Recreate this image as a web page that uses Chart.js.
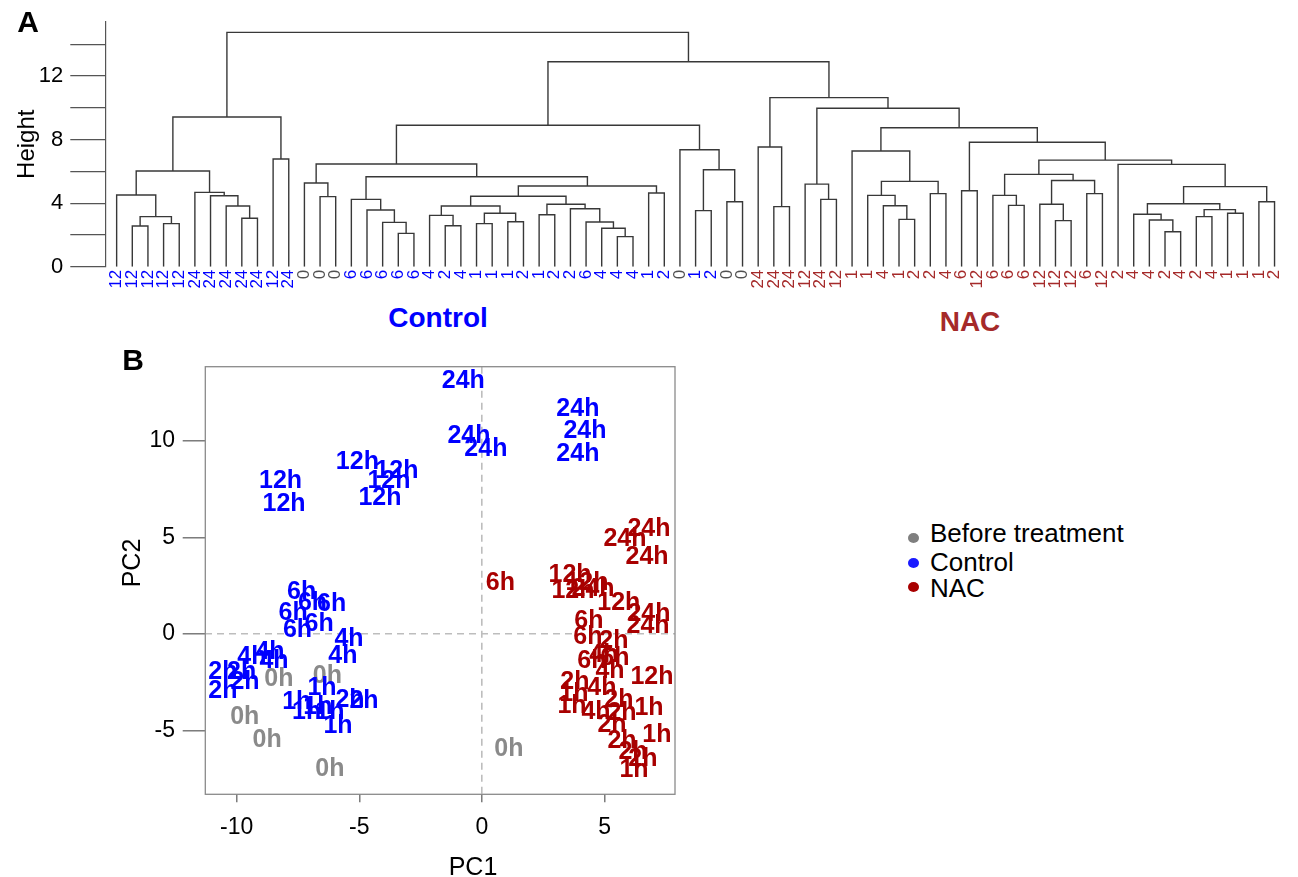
<!DOCTYPE html>
<html>
<head>
<meta charset="utf-8">
<script src="https://cdn.jsdelivr.net/npm/chart.js@4.4.0/dist/chart.umd.min.js"></script>
<style>
  body { margin: 0; background: #fff; width: 1298px; height: 877px; position: relative; overflow: hidden;
         font-family: "Liberation Sans", Arial, sans-serif; }
  canvas { position: absolute; }
  .t { position: absolute; white-space: nowrap; transform: translate(-50%, -50%); line-height: 1; }
  .leg { position: absolute; white-space: nowrap; font-size: 26px; line-height: 1; }
  .dot { position: absolute; width: 11px; height: 10px; border-radius: 50%; }
</style>
</head>
<body>
<canvas id="dendro" width="1298" height="300" style="left:0;top:0"></canvas>
<canvas id="pca" width="700" height="537" style="left:0;top:340px"></canvas>

<div class="t" style="left:28px;top:22px;font-weight:bold;font-size:30px">A</div>
<div class="t" style="left:133px;top:360px;font-weight:bold;font-size:30px">B</div>
<div class="t" style="left:438px;top:318px;font-weight:bold;font-size:28px;color:#0000ff">Control</div>
<div class="t" style="left:970px;top:322px;font-weight:bold;font-size:28px;color:#a52a2a">NAC</div>
<div class="t" style="left:473px;top:866px;font-size:25px">PC1</div>
<div class="t" style="left:131px;top:563px;font-size:25px;transform:translate(-50%,-50%) rotate(-90deg)">PC2</div>

<div class="dot" style="left:908px;top:533px;background:#7f7f7f"></div>
<div class="leg" style="left:930px;top:520px">Before treatment</div>
<div class="dot" style="left:908px;top:558px;background:#1a1aff"></div>
<div class="leg" style="left:930px;top:549px">Control</div>
<div class="dot" style="left:908px;top:582px;background:#a80000"></div>
<div class="leg" style="left:930px;top:575px">NAC</div>

<script>
// ---- panel A: hierarchical clustering ----
// leaf order as drawn, sampling time (h)
const leafTime = [12,12,12,12,12,24,24,24,24,24,12,24,0,0,0,6,6,6,6,6,4,2,4,1,1,1,2,1,2,2,6,4,4,4,1,2,0,1,2,0,0,
                  24,24,24,12,24,12,1,1,4,1,2,2,4,6,12,6,6,6,12,12,12,6,12,2,4,4,2,4,2,4,1,1,1,2];
// b = before treatment, c = control, n = NAC
const leafGroup = ['c','c','c','c','c','c','c','c','c','c','c','c','b','b','b','c','c','c','c','c','c','c','c','c','c','c','c','c','c','c','c','c','c','c','c','c','b','c','c','b','b',
                   'n','n','n','n','n','n','n','n','n','n','n','n','n','n','n','n','n','n','n','n','n','n','n','n','n','n','n','n','n','n','n','n','n','n'];

// merges, hclust style: negative = leaf (1-based), positive = earlier merge
const mergeA = [-2,-4,1,-1,-9,-8,-7,-6,4,-11,9,-14,-13,-19,-18,-17,-16,-22,-21,-24,-26,20,19,-28,-33,-32,-31,-30,24,23,-35,30,17,13,-38,-40,35,-37,34,
                -43,-42,-46,-45,-51,-50,-49,-53,46,-48,-55,-58,-57,-61,-60,-63,54,52,-68,-67,-66,-70,-72,61,60,-74,64,-65,57,50,49,43,41,39,11];
const mergeB = [-3,-5,2,3,-10,5,6,7,8,-12,10,-15,12,-20,14,15,16,-23,18,-25,-27,21,22,-29,-34,25,26,27,28,29,-36,31,32,33,-39,-41,36,37,38,
                -44,40,-47,42,-52,44,45,-54,47,48,-56,-59,51,-62,53,-64,55,56,-69,58,59,-71,-73,62,63,-75,65,66,67,68,69,70,71,72,73];
const mergeH = [2.56,2.71,3.15,4.51,3.05,3.82,4.47,4.68,6.02,6.78,9.42,4.41,5.27,2.10,2.79,3.57,4.24,2.58,3.23,2.71,2.83,3.36,3.82,3.27,1.89,2.42,2.81,3.65,3.93,4.43,4.64,5.08,5.66,6.46,3.53,4.09,6.10,7.36,8.90,
                3.78,7.53,4.24,5.20,2.98,3.84,4.49,4.60,5.37,7.28,4.78,3.86,4.49,2.90,3.93,4.60,5.43,5.81,2.20,2.94,3.30,3.15,3.36,3.59,3.96,4.09,5.04,6.44,6.71,7.83,8.75,9.97,10.64,12.90,14.75];

// ---- panel B: PCA ----
const baseX = [-8.28, -6.30, -9.67, -8.76, -6.20, 1.10];
const baseY = [-2.36, -2.19, -4.30, -5.51, -7.01, -5.98];

const ctrlTime = [24,24,24,24,24,24, 12,12,12,12,12,12, 6,6,6,6,6,6, 4,4,4,4,4, 2,2,2,2,2,2, 1,1,1,1,1,1];
const ctrlX = [-0.76,-0.53,0.16,3.91,4.20,3.91, -8.21,-8.07,-5.08,-3.47,-3.79,-4.16, -7.35,-6.91,-6.13,-7.70,-6.64,-7.52,
               -9.38,-8.64,-8.48,-5.42,-5.67, -10.56,-9.80,-9.66,-10.56,-5.38,-4.81, -6.52,-7.55,-7.15,-6.20,-5.87,-6.69];
const ctrlY = [13.10,10.26,9.58,11.64,10.50,9.32, 7.93,6.73,8.88,8.44,7.92,7.04, 2.16,1.62,1.54,1.09,0.53,0.22,
               -1.20,-0.94,-1.41,-0.29,-1.15, -1.97,-2.00,-2.49,-2.98,-3.40,-3.50, -2.78,-3.52,-4.07,-4.07,-4.79,-3.81];

const nacTime = [24,24,24,24,24,24, 12,12,12,12,12, 6,6,6,6,6, 4,4,4,4, 2,2,2,2,2,2,2,2, 1,1,1,1,1];
const nacX = [6.81,5.83,6.73,6.81,6.77,4.53, 3.59,4.28,3.71,5.58,6.93, 0.75,4.36,4.32,4.48,5.42, 4.97,5.22,4.89,4.65,
              5.38,3.79,5.58,5.71,5.30,5.71,6.16,6.56, 3.75,3.67,6.81,7.13,6.20];
const nacY = [5.45,4.93,3.99,1.05,0.43,2.34, 3.06,2.65,2.24,1.57,-2.21, 2.64,0.64,-0.14,-1.43,-1.27, -1.12,-1.95,-2.78,-4.07,
              -0.35,-2.47,-3.40,-4.12,-4.74,-5.57,-6.14,-6.50, -3.09,-3.71,-3.86,-5.26,-7.07];

Chart.defaults.font.family = '"Liberation Sans", Arial, sans-serif';
Chart.defaults.color = '#000';

const leafColor = { b: '#505050', c: '#0000ff', n: '#a52a2a' };

// build the dendrogram polyline (gaps between merges)
const nodes = [];
const segs = [];
const nodeAt = ref => ref < 0 ? { x: -ref - 1, y: 0 } : nodes[ref - 1];
mergeA.forEach((a, k) => {
  const A = nodeAt(a), B = nodeAt(mergeB[k]), h = mergeH[k];
  segs.push({ x: A.x, y: A.y }, { x: A.x, y: h }, { x: B.x, y: h }, { x: B.x, y: B.y }, { x: B.x, y: null });
  nodes.push({ x: (A.x + B.x) / 2, y: h });
});

new Chart(document.getElementById('dendro'), {
  type: 'line',
  data: {
    datasets: [{
      data: segs,
      borderColor: '#383838',
      borderWidth: 1.4,
      pointRadius: 0,
      spanGaps: false,
      tension: 0
    }]
  },
  options: {
    responsive: false,
    animation: false,
    layout: { padding: { top: 21.7, right: 6, left: 0, bottom: 0 } },
    plugins: { legend: { display: false }, tooltip: { enabled: false } },
    scales: {
      x: {
        type: 'linear',
        min: -0.725,
        max: 74.725,
        afterBuildTicks: s => { s.ticks = leafTime.map((_, i) => ({ value: i })); },
        afterFit: s => { s.height = 33.3; },
        grid: { display: false, drawTicks: false },
        border: { display: false },
        ticks: {
          autoSkip: false,
          minRotation: 90,
          maxRotation: 90,
          padding: 3,
          font: { size: 17 },
          color: c => c.tick ? leafColor[leafGroup[c.tick.value]] : '#000',
          callback: v => String(leafTime[v])
        }
      },
      y: {
        min: 0,
        max: 15.42,
        afterFit: s => { s.width = 105.3; },
        grid: { drawOnChartArea: false, tickLength: 35, color: '#555', lineWidth: 1.2 },
        border: { color: '#555', width: 1.2 },
        ticks: {
          stepSize: 2,
          includeBounds: false,
          padding: 7,
          font: { size: 22 },
          callback: v => (v % 4 === 0 ? v : '')
        },
        title: { display: true, text: 'Height', font: { size: 24 }, padding: { top: 13, bottom: 0 } }
      }
    }
  }
});

// text markers for the PCA
const textLabels = {
  id: 'textLabels',
  afterDatasetsDraw(chart) {
    const ctx = chart.ctx;
    ctx.save();
    ctx.font = 'bold 25px "Liberation Sans", Arial, sans-serif';
    ctx.textAlign = 'center';
    ctx.textBaseline = 'middle';
    chart.data.datasets.forEach((ds, i) => {
      ctx.fillStyle = ds.textColor;
      chart.getDatasetMeta(i).data.forEach((pt, j) => ctx.fillText(ds.labels[j], pt.x, pt.y));
    });
    ctx.restore();
  }
};

const frame = {
  id: 'frame',
  afterDraw(chart) {
    const { left, top, width, height } = chart.chartArea;
    const ctx = chart.ctx;
    ctx.save();
    ctx.strokeStyle = '#8a8a8a';
    ctx.lineWidth = 1.3;
    ctx.strokeRect(left, top, width, height);
    ctx.restore();
  }
};

const zeroLine = c => (c.tick && c.tick.value === 0 ? '#bdbdbd' : 'rgba(0,0,0,0)');

new Chart(document.getElementById('pca'), {
  type: 'scatter',
  data: {
    datasets: [
      { data: baseX.map((x, i) => ({ x, y: baseY[i] })), labels: baseX.map(() => '0h'), textColor: '#8a8a8a', pointRadius: 0 },
      { data: ctrlX.map((x, i) => ({ x, y: ctrlY[i] })), labels: ctrlTime.map(t => t + 'h'), textColor: '#0000ff', pointRadius: 0 },
      { data: nacX.map((x, i) => ({ x, y: nacY[i] })), labels: nacTime.map(t => t + 'h'), textColor: '#a80000', pointRadius: 0 }
    ]
  },
  options: {
    responsive: false,
    animation: false,
    layout: { padding: { top: 26.7, right: 25, left: 0, bottom: 0 } },
    plugins: { legend: { display: false }, tooltip: { enabled: false } },
    scales: {
      x: {
        type: 'linear',
        min: -11.28,
        max: 7.87,
        afterFit: s => { s.height = 82.7; },
        grid: { color: zeroLine, lineWidth: 1.6, tickColor: '#666', tickWidth: 1.3, tickLength: 8 },
        border: { display: false, dash: [7, 5] },
        ticks: { stepSize: 5, includeBounds: false, padding: 12, font: { size: 23 } }
      },
      y: {
        min: -8.30,
        max: 13.83,
        afterFit: s => { s.width = 205.3; },
        grid: { color: zeroLine, lineWidth: 1.6, tickColor: '#666', tickWidth: 1.3, tickLength: 22.6 },
        border: { display: false, dash: [7, 5] },
        ticks: { stepSize: 5, includeBounds: false, padding: 7.7, font: { size: 23 } }
      }
    }
  },
  plugins: [textLabels, frame]
});
</script>
</body>
</html>
